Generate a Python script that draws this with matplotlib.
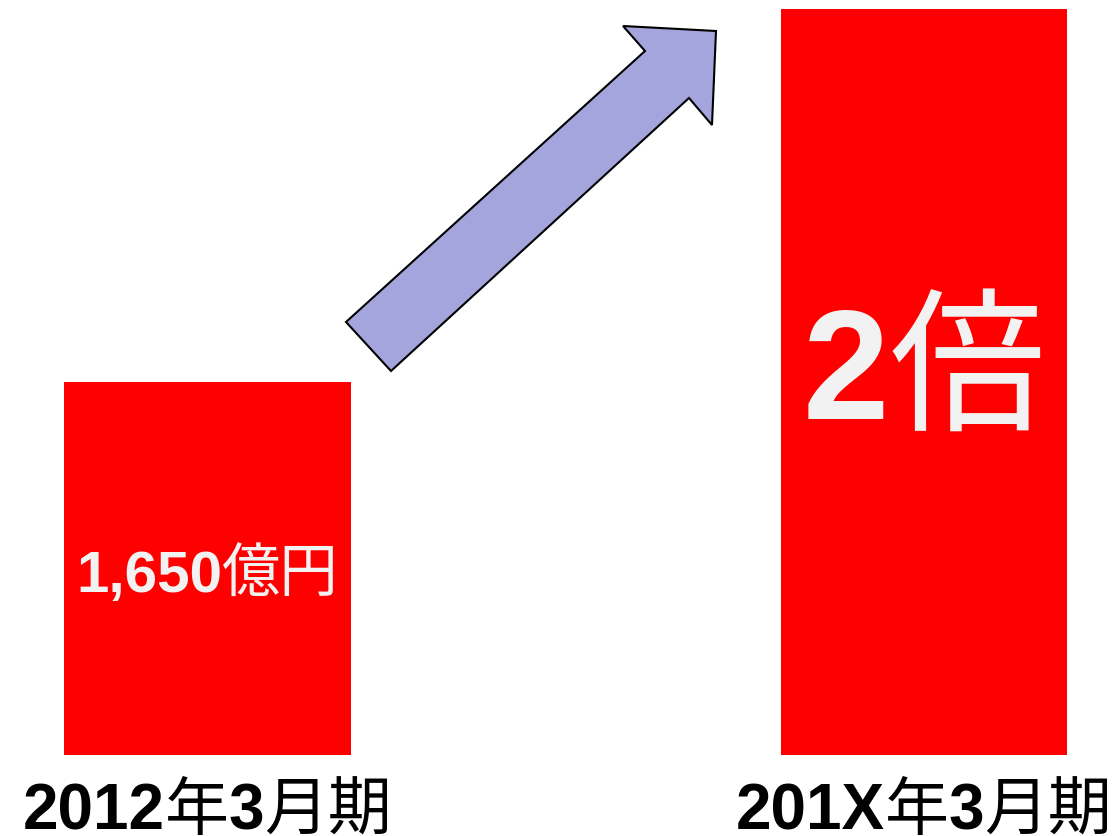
import matplotlib
matplotlib.use("Agg")
import matplotlib.pyplot as plt
from matplotlib.patches import Polygon
from matplotlib.transforms import IdentityTransform

# ---- data ----
categories = ["2012年3月期", "201X年3月期"]
values = [1650, 3300]
value_label = "1,650億円"
ratio_label = "2倍"

# label pieces: (text, is_cjk)
cat_pieces = [
    [("2012", False), ("年", True), ("3", False), ("月期", True)],
    [("201X", False), ("年", True), ("3", False), ("月期", True)],
]
value_pieces = [("1,650", False), ("億円", True)]
ratio_pieces = [("2", False), ("倍", True)]

W, H = 1117, 837
fig = plt.figure(figsize=(W / 100, H / 100), dpi=100)
fig.patch.set_facecolor("white")
ax = fig.add_axes([0, (H - 756) / H, 1, 756 / H])
ax.set_axis_off()

x = [0, 1]
ax.bar(x, values, width=0.4, color="#ff0000", edgecolor="none")
ax.set_xlim(-0.2896, 1.2694)
ax.set_ylim(0, 3344)

fig.canvas.draw()
renderer = fig.canvas.get_renderer()


def draw_mixed(cx, baseline, pieces, size, color):
    texts = []
    widths = []
    for s, cjk in pieces:
        if cjk:
            t = fig.text(0, 0, s, fontsize=size, color=color,
                         family=["Noto Sans CJK JP", "DejaVu Sans"],
                         weight="normal", transform=IdentityTransform(),
                         ha="left", va="baseline")
        else:
            t = fig.text(0, 0, s, fontsize=size, color=color,
                         family=["Liberation Sans", "DejaVu Sans"],
                         weight="bold", transform=IdentityTransform(),
                         ha="left", va="baseline")
        texts.append(t)
        widths.append(t.get_window_extent(renderer).width)
    total = sum(widths)
    xpos = cx - total / 2
    for t, w in zip(texts, widths):
        t.set_position((xpos, baseline))
        xpos += w


for i, pcs in enumerate(cat_pieces):
    cx = ax.transData.transform((x[i], 0))[0]
    draw_mixed(cx, H - 830, pcs, 46, "black")

cx0 = ax.transData.transform((x[0], 0))[0]
draw_mixed(cx0, H - 592, value_pieces, 42, "#f2f2f2")
cx1 = ax.transData.transform((x[1], 0))[0]
draw_mixed(cx1, H - 419, ratio_pieces, 112, "#f2f2f2")

# decorative arrow (pixel coordinates of the picture)
arrow_img = [(346, 323), (645, 52), (623, 27), (716, 32), (712, 126),
             (689, 99), (391, 372)]
arrow_disp = [(px, H - py) for px, py in arrow_img]
fig.patches.append(Polygon(arrow_disp, closed=True, facecolor="#a5a5de",
                           edgecolor="black", linewidth=1.5,
                           transform=IdentityTransform(), figure=fig))

fig.savefig("out.png", dpi=100, facecolor="white")
